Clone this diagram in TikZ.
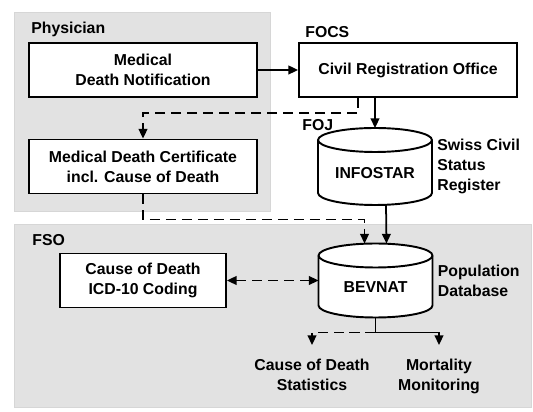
\documentclass[tikz,border=0pt]{standalone}
\usepackage{fontspec}
\setmainfont{Liberation Sans}
\usepackage{xcolor}
\definecolor{panelgray}{HTML}{E2E2E2}
\definecolor{paneledge}{HTML}{D6D6D6}
\usetikzlibrary{arrows.meta, positioning, backgrounds}

\begin{document}
\begin{tikzpicture}[
  font=\fontsize{9}{11.3}\selectfont\bfseries,
  >={Triangle[length=5.5pt,width=5pt]},
  panel/.style={fill=panelgray, draw=paneledge, line width=0.4pt},
  procbox/.style={rectangle, draw, fill=white, line width=1.1pt,
    align=center, minimum height=1.08cm},
  dbase/.style={rectangle, outer sep=0pt, minimum width=2.28cm,
    text height=14pt, text depth=0pt},
  conn/.style={line width=1pt},
  flowdash/.style={conn, dash pattern=on 5.7pt off 3.4pt},
  tag/.style={anchor=west, inner sep=0pt},
  side/.style={align=left, inner sep=0pt}
]
\useasboundingbox (0,0) rectangle (10.66,-8.24);
% group panels
\begin{scope}[on background layer]
\draw[panel] (0.28,-0.24) rectangle (5.40,-4.22);
\draw[panel] (0.28,-4.48) rectangle (10.62,-8.14);
\end{scope}

\node[procbox, minimum width=4.56cm] (notif) at (2.86,-1.40) {Medical\\Death Notification};
\node[procbox, minimum width=4.56cm] (cert) at (2.86,-3.33) {Medical Death Certificate\\incl. Cause of Death};
\node[procbox, minimum width=4.36cm] (cro) at (8.16,-1.40) {Civil Registration Office};
\node[dbase, minimum height=1.54cm] (infostar) at (7.50,-3.33) {INFOSTAR};
\node[dbase, minimum height=1.48cm] (bevnat) at (7.51,-5.61) {BEVNAT};
\node[procbox, minimum width=3.32cm] (icd) at (2.86,-5.61) {Cause of Death\\ICD-10 Coding};

% database outlines
\begin{scope}[on background layer]
\foreach \db in {infostar,bevnat}{
  \draw[line width=1.1pt, fill=white]
    ([yshift=-0.24cm]\db.north west) -- ([yshift=0.24cm]\db.south west)
    arc[start angle=180, end angle=360, x radius=1.14cm, y radius=0.24cm]
    -- ([yshift=-0.24cm]\db.north east)
    arc[start angle=0, end angle=180, x radius=1.14cm, y radius=0.24cm] -- cycle;
  \draw[line width=1.1pt] ([yshift=-0.24cm]\db.north west)
    arc[start angle=180, end angle=360, x radius=1.14cm, y radius=0.24cm];
}
\end{scope}

% group labels
\node[tag] (phys) at (0.62,-0.58) {Physician};
\node[tag] (focs) at (6.10,-0.64) {FOCS};
\node[tag] (foj) at (6.04,-2.50) {FOJ};
\node[tag] (fso) at (0.64,-4.80) {FSO};
\node[side, right=0.1cm of infostar] (sccr) {Swiss Civil\\Status\\Register};
\node[side, right=0.1cm of bevnat] (popdb) {Population\\Database};

% outputs
\node[anchor=north, align=center, inner ysep=8pt] (cods) at (6.24,-6.90) {Cause of Death\\Statistics};
\node[anchor=north, align=center, inner ysep=8pt] (mort) at (8.78,-6.90) {Mortality\\Monitoring};

% connectors
\draw[conn,->] (notif) -- (cro);
\draw[flowdash,->] ([xshift=-1cm]cro.south) -- ++(0,-0.3) -| (cert.north);
\draw[conn,->] (cro.south -| infostar.north) -- (infostar.north);
\draw[conn,->] ([xshift=0.22cm]infostar.south) -- ([xshift=0.22cm]bevnat.north);
\draw[flowdash,->] (cert.south) -- ++(0,-0.5) -| ([xshift=-0.22cm]bevnat.north);
\draw[flowdash,<->] (icd) -- (bevnat);
\coordinate (split) at ([yshift=-0.3cm]bevnat.south);
\draw[conn] (bevnat.south) -- (split);
\draw[flowdash,->] (split) -| (cods.north);
\draw[conn,->] (split) -| (mort.north);
\end{tikzpicture}
\end{document}
